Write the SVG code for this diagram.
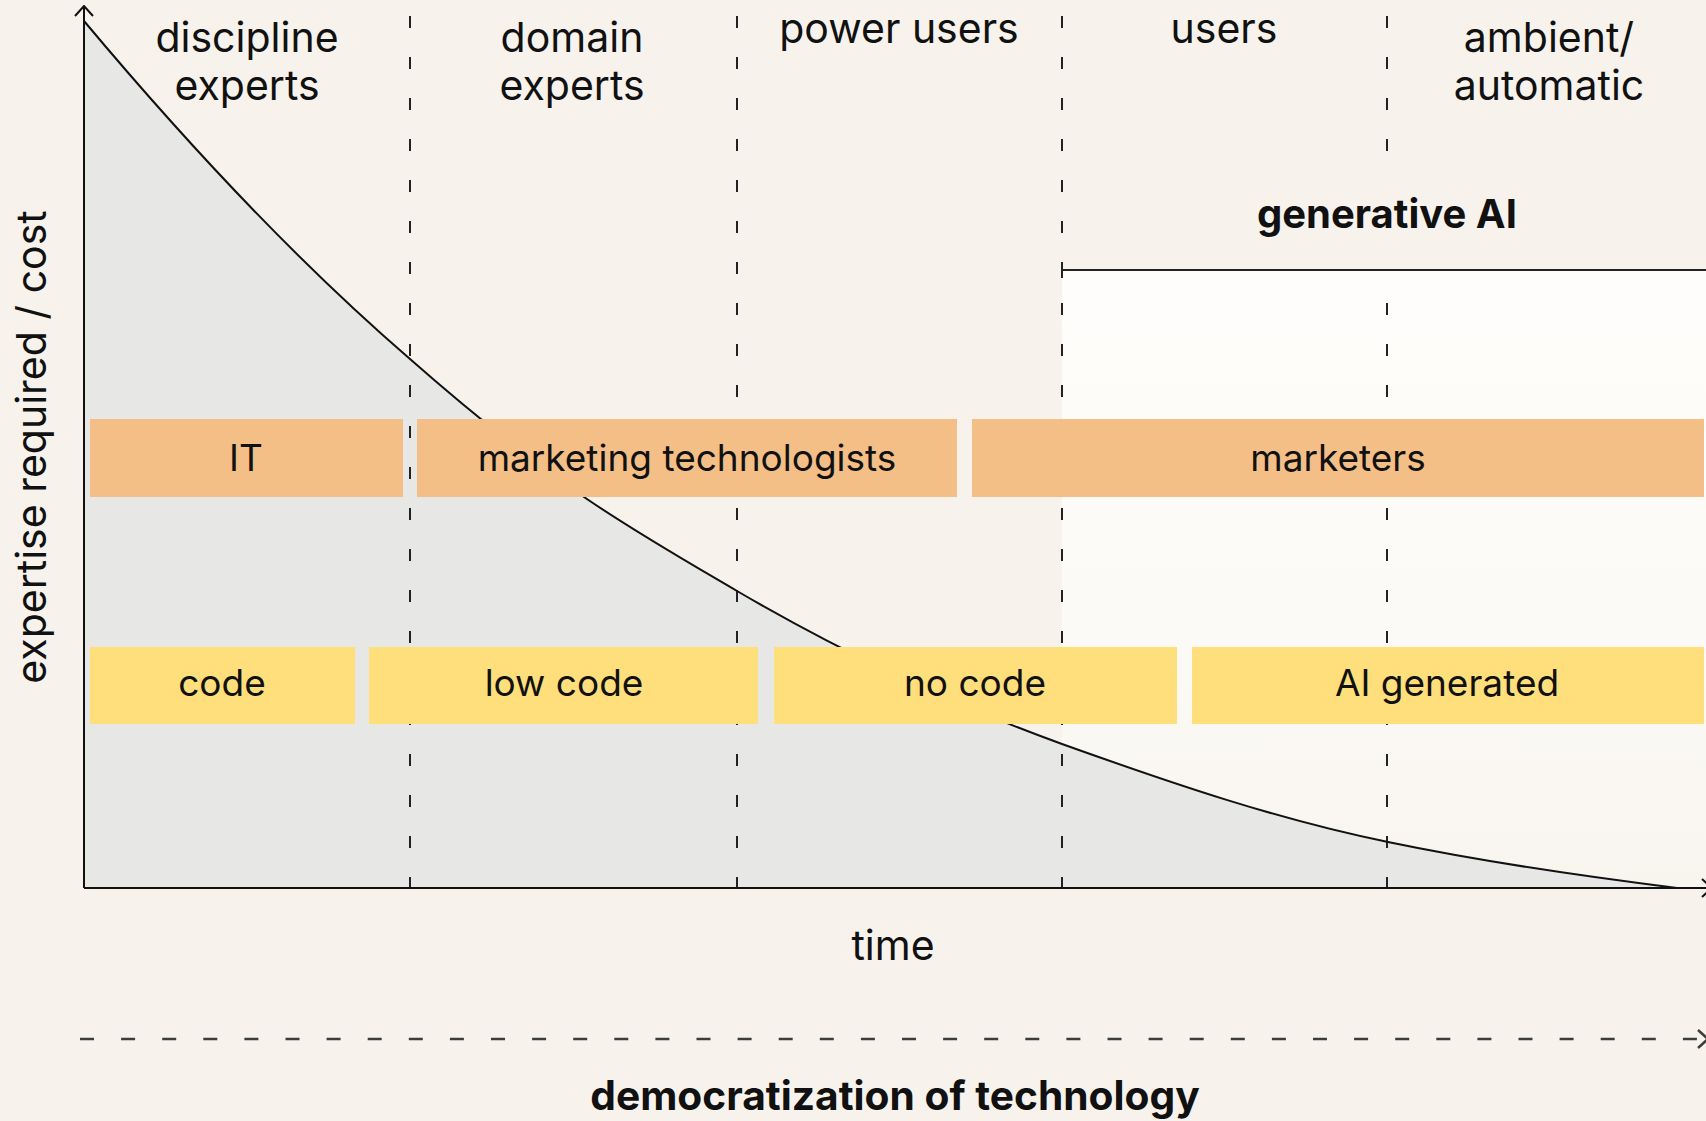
<svg xmlns="http://www.w3.org/2000/svg" width="1706" height="1121" viewBox="0 0 1706 1121">
  <defs>
    <linearGradient id="genai" x1="0" y1="0" x2="0" y2="1">
      <stop offset="0" stop-color="#fefdfb"/>
      <stop offset="0.6" stop-color="#fcfaf6"/>
      <stop offset="1" stop-color="#f8f5ef"/>
    </linearGradient>
    <marker id="chev" viewBox="0 0 12 20" refX="11" refY="10" markerWidth="12" markerHeight="20" markerUnits="userSpaceOnUse" orient="auto">
      <path d="M1,1 L11,10 L1,19" fill="none" stroke="#111" stroke-width="2"/>
    </marker>
    <marker id="chev2" viewBox="0 0 12 20" refX="11" refY="10" markerWidth="12" markerHeight="20" markerUnits="userSpaceOnUse" orient="auto">
      <path d="M1,1 L11,10 L1,19" fill="none" stroke="#3c3c3c" stroke-width="2.5"/>
    </marker>
  </defs>
  <style>
    text { font-family: Inter, "Noto Sans", "Liberation Sans", sans-serif; fill: #111; }
    .hdr { font-size: 41px; text-anchor: middle; }
    .bar { font-size: 37px; text-anchor: middle; }
    .bold { font-weight: 700; font-size: 40px; text-anchor: middle; }
    .orange { fill: #f4be87; }
    .yellow { fill: #fedf7c; }
    .vdash { fill: none; stroke: #222; stroke-width: 2; stroke-dasharray: 12 29; }
    .axis { fill: none; stroke: #111; stroke-width: 2; }
  </style>

  <rect x="0" y="0" width="1706" height="1121" fill="#f7f3ec"/>

  <g id="generative-ai">
    <rect x="1062" y="270" width="644" height="618" fill="url(#genai)"/>
    <path d="M1062,270 L1706,270 M1062,262 L1062,278" fill="none" stroke="#222" stroke-width="2"/>
    <text class="bold" x="1387" y="228">generative AI</text>
  </g>

  <g id="curve">
    <path d="M84,21 C193,151 301,265 410,359 C468,410 526,457 584,497 C635,532 686,561 737,591 C845,654 954,705 1062,744 C1171,783 1279,820 1388,842 C1484,862 1581,876 1677,888 L84,888 Z" fill="#e7e7e6"/>
  </g>

  <g id="connectors">
    <path class="vdash" d="M410,16 L410,888"/>
    <path class="vdash" d="M737,16 L737,888"/>
    <path class="vdash" d="M1062,16 L1062,888"/>
    <path class="vdash" d="M1387,16 L1387,152 M1387,303 L1387,888"/>
    <path d="M84,21 C193,151 301,265 410,359 C468,410 526,457 584,497 C635,532 686,561 737,591 C845,654 954,705 1062,744 C1171,783 1279,820 1388,842 C1484,862 1581,876 1677,888" fill="none" stroke="#111" stroke-width="2"/>
    <path class="axis" d="M84,888 L84,6" marker-end="url(#chev)"/>
    <path class="axis" d="M84,888 L1712,888" marker-end="url(#chev)"/>
    <path d="M80,1039 L1708,1039" fill="none" stroke="#3c3c3c" stroke-width="2.5" stroke-dasharray="14 27.1" marker-end="url(#chev2)"/>
  </g>

  <g id="headers">
    <text class="hdr" x="247" y="52">discipline</text>
    <text class="hdr" x="247" y="100">experts</text>
    <text class="hdr" x="572" y="52">domain</text>
    <text class="hdr" x="572" y="100">experts</text>
    <text class="hdr" x="899" y="43">power users</text>
    <text class="hdr" x="1224" y="43">users</text>
    <text class="hdr" x="1549" y="52">ambient/</text>
    <text class="hdr" x="1549" y="100">automatic</text>
  </g>

  <g id="it">
    <rect class="orange" x="90" y="419" width="313" height="78"/>
    <text class="bar" x="246" y="471">IT</text>
  </g>
  <g id="marketing-technologists">
    <rect class="orange" x="417" y="419" width="540" height="78"/>
    <text class="bar" x="687" y="471">marketing technologists</text>
  </g>
  <g id="marketers">
    <rect class="orange" x="972" y="419" width="732" height="78"/>
    <text class="bar" x="1338" y="471">marketers</text>
  </g>

  <g id="code">
    <rect class="yellow" x="90" y="647" width="265" height="77"/>
    <text class="bar" x="222" y="696">code</text>
  </g>
  <g id="low-code">
    <rect class="yellow" x="369" y="647" width="389" height="77"/>
    <text class="bar" x="564" y="696">low code</text>
  </g>
  <g id="no-code">
    <rect class="yellow" x="774" y="647" width="403" height="77"/>
    <text class="bar" x="975" y="696">no code</text>
  </g>
  <g id="ai-generated">
    <rect class="yellow" x="1192" y="647" width="512" height="77"/>
    <text class="bar" x="1447" y="696">AI generated</text>
  </g>

  <g id="labels">
    <text class="hdr" x="893" y="960">time</text>
    <text class="bold" style="font-size:40.7px" x="895" y="1110">democratization of technology</text>
    <text class="hdr" transform="translate(46,447) rotate(-90)">expertise required / cost</text>
  </g>
</svg>
